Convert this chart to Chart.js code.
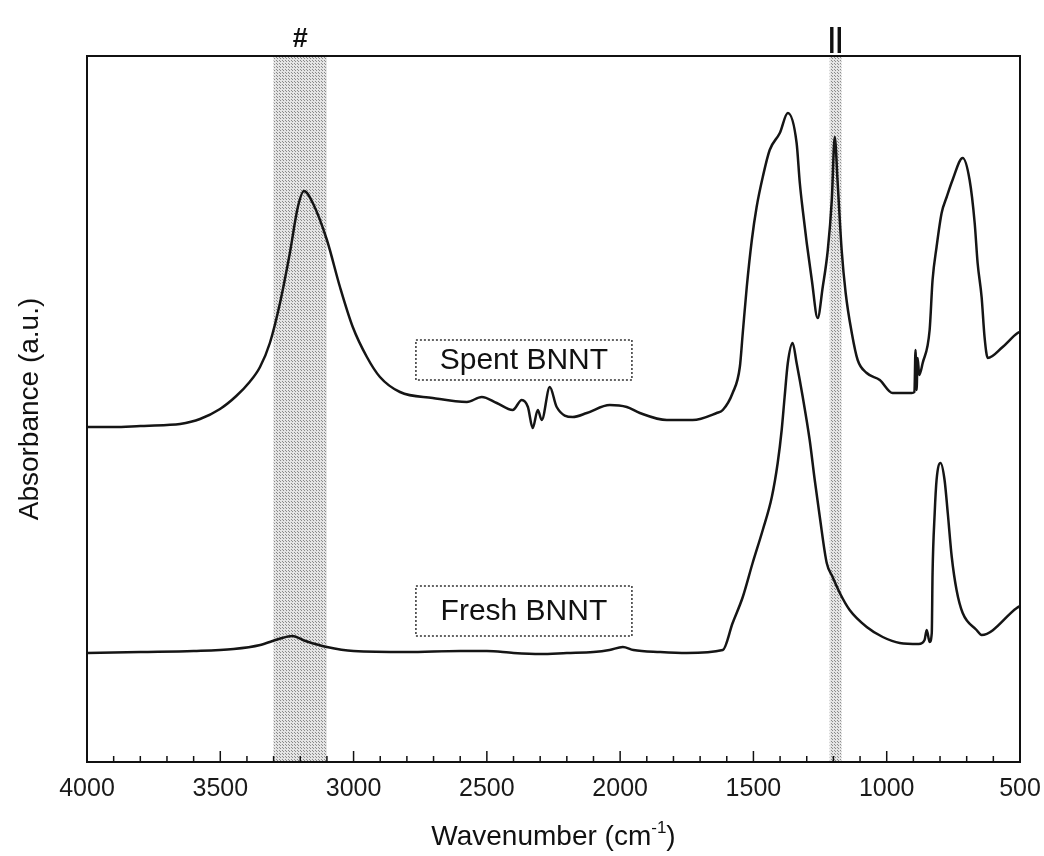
<!DOCTYPE html>
<html>
<head>
<meta charset="utf-8">
<title>FTIR spectra BNNT</title>
<script src="https://cdn.jsdelivr.net/npm/chart.js@4.4.1/dist/chart.umd.min.js"></script>
<style>
    body { margin: 0; background: #fff; }
    #wrap { width: 1044px; height: 856px; position: relative; }
</style>
</head>
<body>
<div id="wrap"><canvas id="myChart"></canvas></div>
<script>
// spectra (wavenumber in cm-1, absorbance in a.u.)
const spentWavenumber = [4000, 3900, 3800, 3700, 3651, 3576, 3501, 3440, 3390, 3351, 3314, 3276, 3239, 3209, 3186, 3153, 3100, 3051, 3003, 2950, 2901, 2826, 2703, 2575, 2519, 2463, 2403, 2369, 2346, 2328, 2309, 2294, 2264, 2238, 2178, 2125, 2039, 1975, 1926, 1825, 1728, 1638, 1615, 1578, 1551, 1540, 1525, 1506, 1488, 1465, 1439, 1401, 1371, 1338, 1326, 1315, 1300, 1281, 1259, 1240, 1221, 1206, 1195, 1184, 1169, 1154, 1131, 1109, 1075, 1026, 978, 906, 896, 892, 888, 884, 878, 865, 839, 828, 813, 794, 775, 753, 715, 689, 670, 659, 644, 633, 621, 565, 509, 500];
const spentAbsorbance = [335, 335, 336, 337, 338, 343, 353, 366, 380, 395, 419, 459, 509, 555, 571, 559, 522, 475, 435, 405, 385, 370, 364, 360, 365, 359, 352, 362, 355, 334, 352, 342, 375, 355, 345, 349, 357, 355, 349, 342, 342, 349, 352, 369, 395, 429, 475, 522, 555, 585, 612, 629, 649, 619, 579, 552, 519, 482, 444, 475, 512, 562, 625, 579, 512, 469, 429, 402, 389, 382, 369, 369, 370, 412, 372, 404, 387, 399, 432, 482, 515, 549, 565, 582, 604, 582, 539, 499, 465, 425, 404, 415, 429, 430];

const freshWavenumber = [4000, 3800, 3600, 3450, 3350, 3280, 3230, 3180, 3100, 3000, 2800, 2600, 2500, 2400, 2300, 2200, 2100, 2040, 1990, 1950, 1850, 1750, 1615, 1578, 1540, 1503, 1465, 1431, 1409, 1394, 1383, 1371, 1353, 1338, 1315, 1289, 1270, 1251, 1225, 1203, 1176, 1139, 1075, 1015, 951, 880, 858, 850, 839, 831, 828, 820, 813, 798, 783, 771, 756, 738, 715, 663, 644, 512, 500];
const freshAbsorbance = [109, 110, 111, 113, 117, 123, 126, 121, 115, 111, 110, 111, 111, 109, 108, 109, 110, 112, 115, 112, 110, 109, 112, 139, 165, 199, 232, 265, 299, 332, 365, 399, 419, 399, 365, 322, 282, 245, 199, 185, 169, 152, 135, 125, 119, 118, 122, 132, 120, 129, 189, 249, 282, 299, 282, 249, 205, 172, 149, 132, 127, 154, 156];

const xTicks = [4000, 3500, 3000, 2500, 2000, 1500, 1000, 500];
const bandRanges = [[3300, 3100], [1214, 1170]];
const bandMarks = ['#', '||'];
const sampleLabels = ['Spent BNNT', 'Fresh BNNT'];
const labelAnchors = [[2361, 402], [2361, 151]];

const toPoints = (xs, ys) => xs.map((x, i) => ({ x: x, y: ys[i] }));

const makePattern = () => {
    const c = document.createElement('canvas');
    c.width = 3;
    c.height = 3;
    const g = c.getContext('2d');
    g.fillStyle = '#e4e4e4';
    g.fillRect(0, 0, 3, 3);
    g.fillStyle = '#8a8a8a';
    g.fillRect(1, 1, 1, 1);
    g.fillRect(0, 0, 1, 1);
    return g.createPattern(c, 'repeat');
};

const bandsPlugin = {
    id: 'bands',
    beforeDatasetsDraw(chart) {
        const { ctx, chartArea, scales } = chart;
        ctx.save();
        ctx.fillStyle = makePattern();
        bandRanges.forEach(([a, b]) => {
            const x1 = scales.x.getPixelForValue(a);
            const x2 = scales.x.getPixelForValue(b);
            ctx.fillRect(x1, chartArea.top, x2 - x1, chartArea.bottom - chartArea.top);
        });
        ctx.restore();
    }
};

const decorPlugin = {
    id: 'decor',
    afterDraw(chart) {
        const { ctx, chartArea, scales } = chart;
        const { left, right, top, bottom } = chartArea;
        ctx.save();

        // frame
        ctx.strokeStyle = '#111';
        ctx.lineWidth = 2;
        ctx.strokeRect(left, top, right - left, bottom - top);

        // inward ticks on the bottom axis
        ctx.lineWidth = 1.5;
        for (let w = 4000; w >= 500; w -= 100) {
            const px = scales.x.getPixelForValue(w);
            const len = w % 500 === 0 ? 11 : 6;
            ctx.beginPath();
            ctx.moveTo(px, bottom);
            ctx.lineTo(px, bottom - len);
            ctx.stroke();
        }

        // band markers above the frame
        ctx.fillStyle = '#111';
        ctx.textAlign = 'center';
        ctx.textBaseline = 'alphabetic';
        ctx.font = 'bold 27px "Liberation Sans", Arial, sans-serif';
        bandRanges.forEach(([a, b], i) => {
            const px = scales.x.getPixelForValue((a + b) / 2);
            ctx.fillText(bandMarks[i], px, top - 9);
        });

        // sample labels in dotted boxes
        ctx.font = '30px "Liberation Sans", Arial, sans-serif';
        ctx.textBaseline = 'middle';
        sampleLabels.forEach((text, i) => {
            const cx = scales.x.getPixelForValue(labelAnchors[i][0]);
            const cy = scales.y.getPixelForValue(labelAnchors[i][1]);
            const w = 216;
            const h = i === 0 ? 40 : 50;
            ctx.fillStyle = '#fff';
            ctx.fillRect(cx - w / 2, cy - h / 2, w, h);
            ctx.setLineDash([2, 2]);
            ctx.lineWidth = 1.5;
            ctx.strokeStyle = '#333';
            ctx.strokeRect(cx - w / 2, cy - h / 2, w, h);
            ctx.setLineDash([]);
            ctx.fillStyle = '#111';
            ctx.fillText(text, cx, cy + 1);
        });

        // x title with superscript
        ctx.textBaseline = 'alphabetic';
        ctx.textAlign = 'left';
        const mainFont = '28px "Liberation Sans", Arial, sans-serif';
        const supFont = '17px "Liberation Sans", Arial, sans-serif';
        const part1 = 'Wavenumber (cm';
        const sup = '-1';
        const part2 = ')';
        ctx.font = mainFont;
        const w1 = ctx.measureText(part1).width;
        const w3 = ctx.measureText(part2).width;
        ctx.font = supFont;
        const w2 = ctx.measureText(sup).width;
        const total = w1 + w2 + w3;
        let x0 = (left + right) / 2 - total / 2;
        const base = 845;
        ctx.font = mainFont;
        ctx.fillText(part1, x0, base);
        ctx.font = supFont;
        ctx.fillText(sup, x0 + w1, base - 12);
        ctx.font = mainFont;
        ctx.fillText(part2, x0 + w1 + w2, base);

        // y title
        ctx.translate(30, (top + bottom) / 2);
        ctx.rotate(-Math.PI / 2);
        ctx.textAlign = 'center';
        ctx.textBaseline = 'middle';
        ctx.font = mainFont;
        ctx.fillText('Absorbance (a.u.)', 0, 0);

        ctx.restore();
    }
};

const lineStyle = {
    borderColor: '#151515',
    borderWidth: 2.5,
    pointRadius: 0,
    fill: false,
    cubicInterpolationMode: 'monotone'
};

new Chart(document.getElementById('myChart'), {
    type: 'line',
    data: {
        datasets: [
            { label: 'Spent BNNT', data: toPoints(spentWavenumber, spentAbsorbance), ...lineStyle },
            { label: 'Fresh BNNT', data: toPoints(freshWavenumber, freshAbsorbance), ...lineStyle }
        ]
    },
    options: {
        responsive: true,
        maintainAspectRatio: false,
        animation: false,
        layout: { padding: { left: 87, right: 24, top: 56, bottom: 0 } },
        plugins: {
            legend: { display: false },
            tooltip: { enabled: false }
        },
        scales: {
            x: {
                type: 'linear',
                reverse: true,
                min: 500,
                max: 4000,
                afterBuildTicks: (scale) => {
                    scale.ticks = xTicks.map((v) => ({ value: v }));
                },
                afterFit: (scale) => {
                    scale.height = 94;
                    scale.paddingLeft = 0;
                    scale.paddingRight = 0;
                },
                grid: { display: false, drawTicks: false },
                border: { display: false },
                ticks: {
                    padding: 12,
                    color: '#1a1a1a',
                    maxRotation: 0,
                    autoSkip: false,
                    callback: (value) => String(value),
                    font: { family: '"Liberation Sans", Arial, sans-serif', size: 25 }
                }
            },
            y: {
                display: false,
                min: 0,
                max: 706
            }
        }
    },
    plugins: [bandsPlugin, decorPlugin]
});
</script>
</body>
</html>
